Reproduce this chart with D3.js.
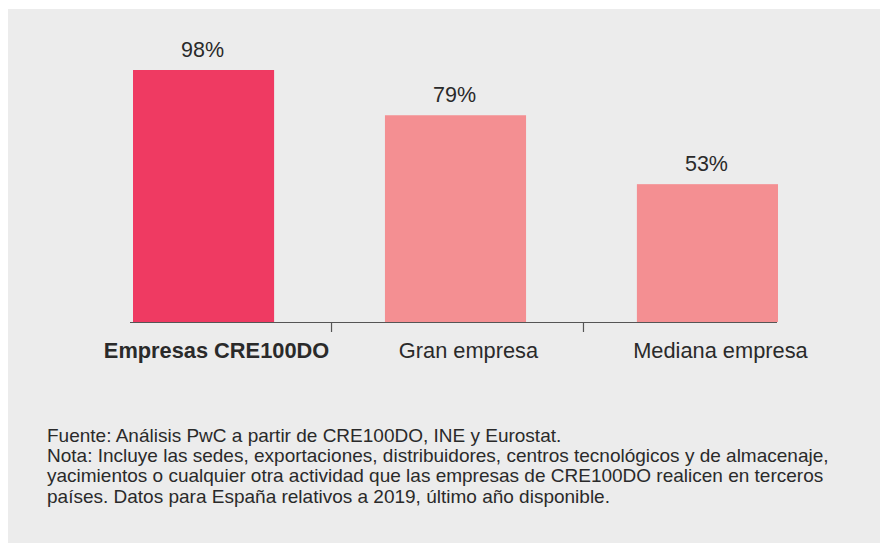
<!DOCTYPE html>
<html>
<head>
<meta charset="utf-8">
<script src="https://cdn.jsdelivr.net/npm/d3@7"></script>
<style>
  body { margin: 0; background: #fff; }
  svg text { font-family: "Liberation Sans", Arial, Helvetica, sans-serif; fill: #2a2a2a; }
</style>
</head>
<body>
<svg id="chart" width="880" height="543"></svg>
<script>
// chart data
const categories = ["Empresas CRE100DO", "Gran empresa", "Mediana empresa"]
const values = [98, 80.4, 53.6]
const valueLabels = ["98%", "79%", "53%"]
const barColors = ["#ef3a62", "#f48f92", "#f48f92"]
const noteLines = [
  "Fuente: Análisis PwC a partir de CRE100DO, INE y Eurostat.",
  "Nota: Incluye las sedes, exportaciones, distribuidores, centros tecnológicos y de almacenaje,",
  "yacimientos o cualquier otra actividad que las empresas de CRE100DO realicen en terceros",
  "países. Datos para España relativos a 2019, último año disponible."
]

const svg = d3.select("#chart")

// gray panel
svg.append("rect")
  .attr("x", 8).attr("y", 9)
  .attr("width", 872).attr("height", 534)
  .attr("fill", "#ececec")

const baseY = 322
const x = d3.scaleBand().domain(categories).range([133, 778]).paddingInner(0.44).paddingOuter(0)
const y = d3.scaleLinear().domain([0, 98]).range([baseY, 70])

const g = svg.append("g")

g.selectAll("rect.bar")
  .data(categories).enter()
  .append("rect")
    .attr("class", "bar")
    .attr("x", d => x(d))
    .attr("y", (d, i) => y(values[i]))
    .attr("width", x.bandwidth())
    .attr("height", (d, i) => baseY - y(values[i]))
    .attr("fill", (d, i) => barColors[i])

// value labels
g.selectAll("text.val")
  .data(categories).enter()
  .append("text")
    .attr("class", "val")
    .attr("x", d => x(d) + x.bandwidth() / 2 - 1)
    .attr("y", (d, i) => y(values[i]) - 13)
    .attr("text-anchor", "middle")
    .style("font-size", "21.5px")
    .text((d, i) => valueLabels[i])

// axis line + separators between categories
g.append("line")
  .attr("x1", 130).attr("x2", 777)
  .attr("y1", baseY + 0.5).attr("y2", baseY + 0.5)
  .attr("stroke", "#555").attr("stroke-width", 1.2)

const seps = categories.slice(1).map((d, i) => (x(categories[i]) + x.bandwidth() + x(d)) / 2 + 2)
g.selectAll("line.sep")
  .data(seps).enter()
  .append("line")
    .attr("class", "sep")
    .attr("x1", d => d).attr("x2", d => d)
    .attr("y1", baseY).attr("y2", baseY + 10)
    .attr("stroke", "#555").attr("stroke-width", 1.2)

// category labels
g.selectAll("text.cat")
  .data(categories).enter()
  .append("text")
    .attr("class", "cat")
    .attr("x", d => x(d) + x.bandwidth() / 2 + 13)
    .attr("y", 358)
    .attr("text-anchor", "middle")
    .style("font-size", "21.8px")
    .style("font-weight", (d, i) => i == 0 ? "bold" : "normal")
    .text(d => d)

// source + note
svg.selectAll("text.note")
  .data(noteLines).enter()
  .append("text")
    .attr("class", "note")
    .attr("x", 47)
    .attr("y", (d, i) => 442 + i * 20.2)
    .style("font-size", "19px")
    .text(d => d)
</script>
</body>
</html>
